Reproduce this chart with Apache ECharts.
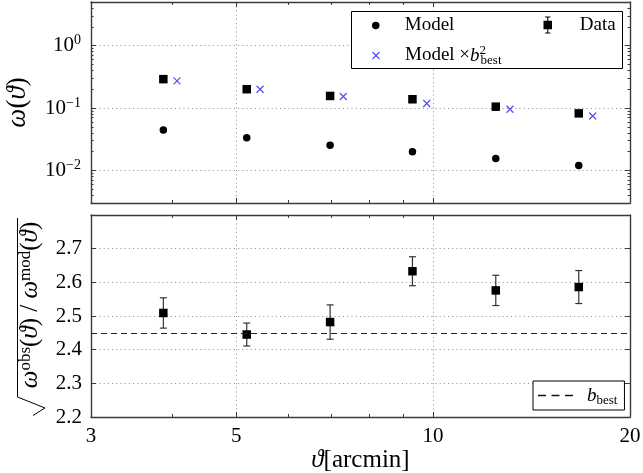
<!DOCTYPE html>
<html><head><meta charset="utf-8">
<script src="https://cdn.jsdelivr.net/npm/echarts@6/dist/echarts.min.js"></script>
<style>html,body{margin:0;padding:0;background:#fff}#c{width:643px;height:473px}</style>
</head><body><div id="c"></div>
<script>
// ---- data ----
const theta = [3.87, 5.19, 6.96, 9.30, 12.47, 16.70];          // arcmin
const thetaScaled = [4.06, 5.44, 7.29, 9.78, 13.11, 17.54];    // crosses drawn slightly offset
const omegaData = [0.290, 0.200, 0.156, 0.138, 0.105, 0.082];
const omegaModel = [0.0442, 0.0333, 0.0253, 0.0198, 0.0155, 0.0120];
const omegaScaled = [0.272, 0.200, 0.153, 0.118, 0.0953, 0.0743];
const ratio = [2.509, 2.445, 2.482, 2.633, 2.576, 2.586];
const ratioErr = [0.045, 0.034, 0.051, 0.043, 0.045, 0.049];
const bBest = 2.45;
// ---- ticks ----
const xTickLabels = [3, 5, 10, 20];
const xMajorTicks = [5, 10];
const xMinorTicks = [4, 6, 7, 8, 9];
const yTopExponents = [-2, -1, 0];
const yTopMinorTicks = [0.004,0.005,0.006,0.007,0.008,0.009,
  0.02,0.03,0.04,0.05,0.06,0.07,0.08,0.09,
  0.2,0.3,0.4,0.5,0.6,0.7,0.8,0.9,2,3,4];

const SERIES_SCALED = 'Model × b_best^2';
const INK = '#3a3a3a';
const GRIDC = '#9c9c9c';
const SERIF = "'Liberation Serif','DejaVu Serif',serif";
const LX = v => Math.log10(v);
const xMin = LX(3), xMax = LX(20);
const yTopMin = LX(0.003), yTopMax = LX(5);

function tickAxis(grid, pos, min, max, vals, len, showLine, split) {
  return {
    type: 'value', gridIndex: grid, position: pos, min: min, max: max, silent: true,
    axisLine: {show: showLine, onZero: false, lineStyle: {color: INK, width: 1.4}},
    axisTick: {show: true, inside: true, length: len, customValues: vals, lineStyle: {color: INK, width: 1}},
    axisLabel: {show: false},
    splitLine: {show: !!split, lineStyle: {color: GRIDC, width: 1, type: [1.2, 3]}}
  };
}
const xMaj = xMajorTicks.map(LX), xMin_ = xMinorTicks.map(LX);
const yMin_ = yTopMinorTicks.map(LX);

const txt = (size, extra) => Object.assign({fontFamily: SERIF, fontSize: size, color: '#000', verticalAlign: 'middle'}, extra || {});

// bottom x axis with labels
const xLab = tickAxis(1, 'bottom', xMin, xMax, xMaj, 5, true, true);
xLab.axisLabel = {show: true, customValues: xTickLabels.map(LX), margin: 9,
  fontFamily: SERIF, fontSize: 21, color: '#000',
  formatter: v => String(Math.round(Math.pow(10, v)))};
xLab.name = '{i|ϑ}{n|[arcmin]}';
xLab.nameLocation = 'middle';
xLab.nameGap = 26;
xLab.nameTextStyle = {rich: {i: txt(25, {fontStyle: 'italic', lineHeight: 28}), n: txt(25, {lineHeight: 28})}};

// top y axis with labels
const yTopLab = tickAxis(0, 'left', yTopMin, yTopMax, yTopExponents, 5, true, true);
yTopLab.axisLabel = {show: true, customValues: yTopExponents, margin: 10,
  formatter: v => { const e = Math.round(v); return '{b|10}{s|' + (e < 0 ? '−' + (-e) : e) + '}'; },
  rich: {b: txt(21, {lineHeight: 24}), s: txt(14, {lineHeight: 14, padding: [0, 0, 10, 0]})}};
yTopLab.name = '{i|ω}{n|(}{i|ϑ}{n|)}';
yTopLab.nameLocation = 'middle';
yTopLab.nameGap = 59;
yTopLab.nameTextStyle = {rich: {i: txt(27, {fontStyle: 'italic', lineHeight: 28}), n: txt(27, {lineHeight: 28})}};

// bottom y axis with labels
const yBotLab = {
  type: 'value', gridIndex: 1, position: 'left', min: 2.2, max: 2.8, interval: 0.1,
  axisLine: {show: true, onZero: false, lineStyle: {color: INK, width: 1.4}},
  axisTick: {show: true, inside: true, length: 5, lineStyle: {color: INK, width: 1}},
  axisLabel: {show: true, showMaxLabel: false, margin: 9, fontFamily: SERIF, fontSize: 21, color: '#000',
    formatter: v => v.toFixed(1)},
  splitLine: {show: true, lineStyle: {color: GRIDC, width: 1, type: [1.2, 3]}},
  name: '{i|ω}{s|obs}{n|(}{i|ϑ}{n|) / }{i|ω}{s|mod}{n|(}{i|ϑ}{n|)}',
  nameLocation: 'middle', nameGap: 45,
  nameTextStyle: {padding: [0, 0, 0, 22], rich: {
    i: txt(25, {fontStyle: 'italic', lineHeight: 27}), n: txt(25, {lineHeight: 27}),
    s: txt(17, {lineHeight: 16, padding: [0, 0, 11, 0]})}}
};
const yBotRight = {
  type: 'value', gridIndex: 1, position: 'right', min: 2.2, max: 2.8, interval: 0.1, silent: true,
  axisLine: {show: true, onZero: false, lineStyle: {color: INK, width: 1.4}},
  axisTick: {show: true, inside: true, length: 5, lineStyle: {color: INK, width: 1}},
  axisLabel: {show: false}, splitLine: {show: false}
};

const CROSS = 'path://M0,0L10,10M10,0L0,10';
const DATA_ICON = 'path://M3.5,0H8.5V1H6.5V4H10V12H6.5V15H8.5V16H3.5V15H5.5V12H2V4H5.5V1H3.5Z';
const DASH_ICON = 'path://M0,0h8v1.6h-8zM13.5,0h8v1.6h-8zM27,0h8v1.6h-8z';
const BLUE = '#5050f5';

const legendRich = {
  n: txt(19, {lineHeight: 22}),
  i: txt(19, {fontStyle: 'italic', lineHeight: 22}),
  sup: txt(13, {lineHeight: 12, padding: [0, 0, 10, 0], width: 1}),
  sub: txt(13, {lineHeight: 12, padding: [10, 0, 0, 0]}),
  sp: {width: 9}
};
const legendFormatter = name => {
  if (name === SERIES_SCALED) return '{n|Model ×}{i|b}{sup|2}{sub|best}';
  if (name === 'b_best') return '{sp|}{i|b}{sub|best}';
  return '{n|' + name + '}';
};
const legendBase = {selectedMode: false, padding: 0, itemGap: 0, formatter: legendFormatter,
  textStyle: {fontFamily: SERIF, fontSize: 19, color: '#000', rich: legendRich}};

const option = {
  animation: false,
  backgroundColor: '#fff',
  grid: [
    {left: 91, top: 2, width: 539, height: 201, outerBoundsMode: 'none'},
    {left: 91, top: 215, width: 539, height: 202, outerBoundsMode: 'none'}
  ],
  xAxis: [
    {type: 'log', logBase: 10, gridIndex: 0, min: 3, max: 20, show: false},
    {type: 'log', logBase: 10, gridIndex: 1, min: 3, max: 20, show: false},
    tickAxis(0, 'bottom', xMin, xMax, xMaj, 5, true, true),
    tickAxis(0, 'bottom', xMin, xMax, xMin_, 3, false, false),
    tickAxis(0, 'top', xMin, xMax, xMaj, 5, true, false),
    tickAxis(0, 'top', xMin, xMax, xMin_, 3, false, false),
    xLab,
    tickAxis(1, 'bottom', xMin, xMax, xMin_, 3, false, false),
    tickAxis(1, 'top', xMin, xMax, xMaj, 5, true, false),
    tickAxis(1, 'top', xMin, xMax, xMin_, 3, false, false)
  ],
  yAxis: [
    {type: 'log', logBase: 10, gridIndex: 0, min: 0.003, max: 5, show: false},
    yBotLab,
    yTopLab,
    tickAxis(0, 'left', yTopMin, yTopMax, yMin_, 2.5, false, false),
    tickAxis(0, 'right', yTopMin, yTopMax, yTopExponents, 5, true, false),
    tickAxis(0, 'right', yTopMin, yTopMax, yMin_, 2.5, false, false),
    yBotRight
  ],
  legend: [
    Object.assign({}, legendBase, {data: [{name: 'Model', icon: 'circle'}], left: 372, top: 16, itemWidth: 48, itemHeight: 7.5}),
    Object.assign({}, legendBase, {data: [{name: SERIES_SCALED, icon: CROSS}], left: 370, top: 44, itemWidth: 48, itemHeight: 7,
      itemStyle: {color: 'none', borderColor: BLUE, borderWidth: 1.2, opacity: 1}}),
    Object.assign({}, legendBase, {data: [{name: 'Data', icon: DATA_ICON}], left: 543.5, top: 15.5, itemWidth: 54, itemHeight: 17}),
    Object.assign({}, legendBase, {data: [{name: 'b_best', icon: DASH_ICON}], left: 533, top: 381, itemWidth: 35, itemHeight: 1.6,
      padding: [3, 7, 3, 5], backgroundColor: '#fff', borderColor: '#000', borderWidth: 1,
      itemStyle: {color: '#111', borderWidth: 0}})
  ],
  graphic: [
    {type: 'rect', z: 3, silent: true, shape: {x: 351.5, y: 11.5, width: 271, height: 57},
      style: {fill: '#fff', stroke: '#000', lineWidth: 1}},
    {type: 'polyline', z: 3, silent: true, shape: {points: [[17.5, 218], [17.5, 397], [45, 408], [33, 415.5]]},
      style: {fill: 'none', stroke: '#000', lineWidth: 1}}
  ],
  series: [
    {name: 'Model', type: 'scatter', xAxisIndex: 0, yAxisIndex: 0, symbol: 'circle', symbolSize: 7.5,
      itemStyle: {color: '#000', opacity: 1}, data: theta.map((t, i) => [t, omegaModel[i]])},
    {name: 'Data', type: 'scatter', xAxisIndex: 0, yAxisIndex: 0, symbol: 'rect', symbolSize: 8.5,
      itemStyle: {color: '#000', opacity: 1}, data: theta.map((t, i) => [t, omegaData[i]])},
    {name: SERIES_SCALED, type: 'scatter', xAxisIndex: 0, yAxisIndex: 0, symbol: CROSS, symbolSize: 7,
      itemStyle: {color: 'none', borderColor: BLUE, borderWidth: 1.2, opacity: 1},
      data: thetaScaled.map((t, i) => [t, omegaScaled[i]])},
    {name: 'ratio errors', type: 'custom', xAxisIndex: 1, yAxisIndex: 1, encode: {x: 0, y: 1},
      data: theta.map((t, i) => [t, ratio[i], ratioErr[i]]),
      renderItem: (params, api) => {
        const x = api.value(0), y = api.value(1), e = api.value(2);
        const top = api.coord([x, y + e]), bot = api.coord([x, y - e]);
        const cw = 3.5, st = {stroke: '#333', lineWidth: 1.2};
        return {type: 'group', children: [
          {type: 'line', shape: {x1: top[0], y1: top[1], x2: bot[0], y2: bot[1]}, style: st},
          {type: 'line', shape: {x1: top[0] - cw, y1: top[1], x2: top[0] + cw, y2: top[1]}, style: st},
          {type: 'line', shape: {x1: bot[0] - cw, y1: bot[1], x2: bot[0] + cw, y2: bot[1]}, style: st}
        ]};
      }},
    {name: 'ratio', type: 'scatter', xAxisIndex: 1, yAxisIndex: 1, symbol: 'rect', symbolSize: 8.5, z: 4,
      itemStyle: {color: '#000', opacity: 1}, data: theta.map((t, i) => [t, ratio[i]])},
    {name: 'b_best', type: 'line', xAxisIndex: 1, yAxisIndex: 1, data: [],
      itemStyle: {color: '#000'}, lineStyle: {color: '#000'},
      markLine: {silent: true, symbol: ['none', 'none'], label: {show: false},
        lineStyle: {color: '#222', type: [6, 4], width: 1.2}, data: [{yAxis: bBest}]}}
  ]
};
const chart = echarts.init(document.getElementById('c'), null, {renderer: 'canvas'});
chart.setOption(option);
</script>
</body></html>
